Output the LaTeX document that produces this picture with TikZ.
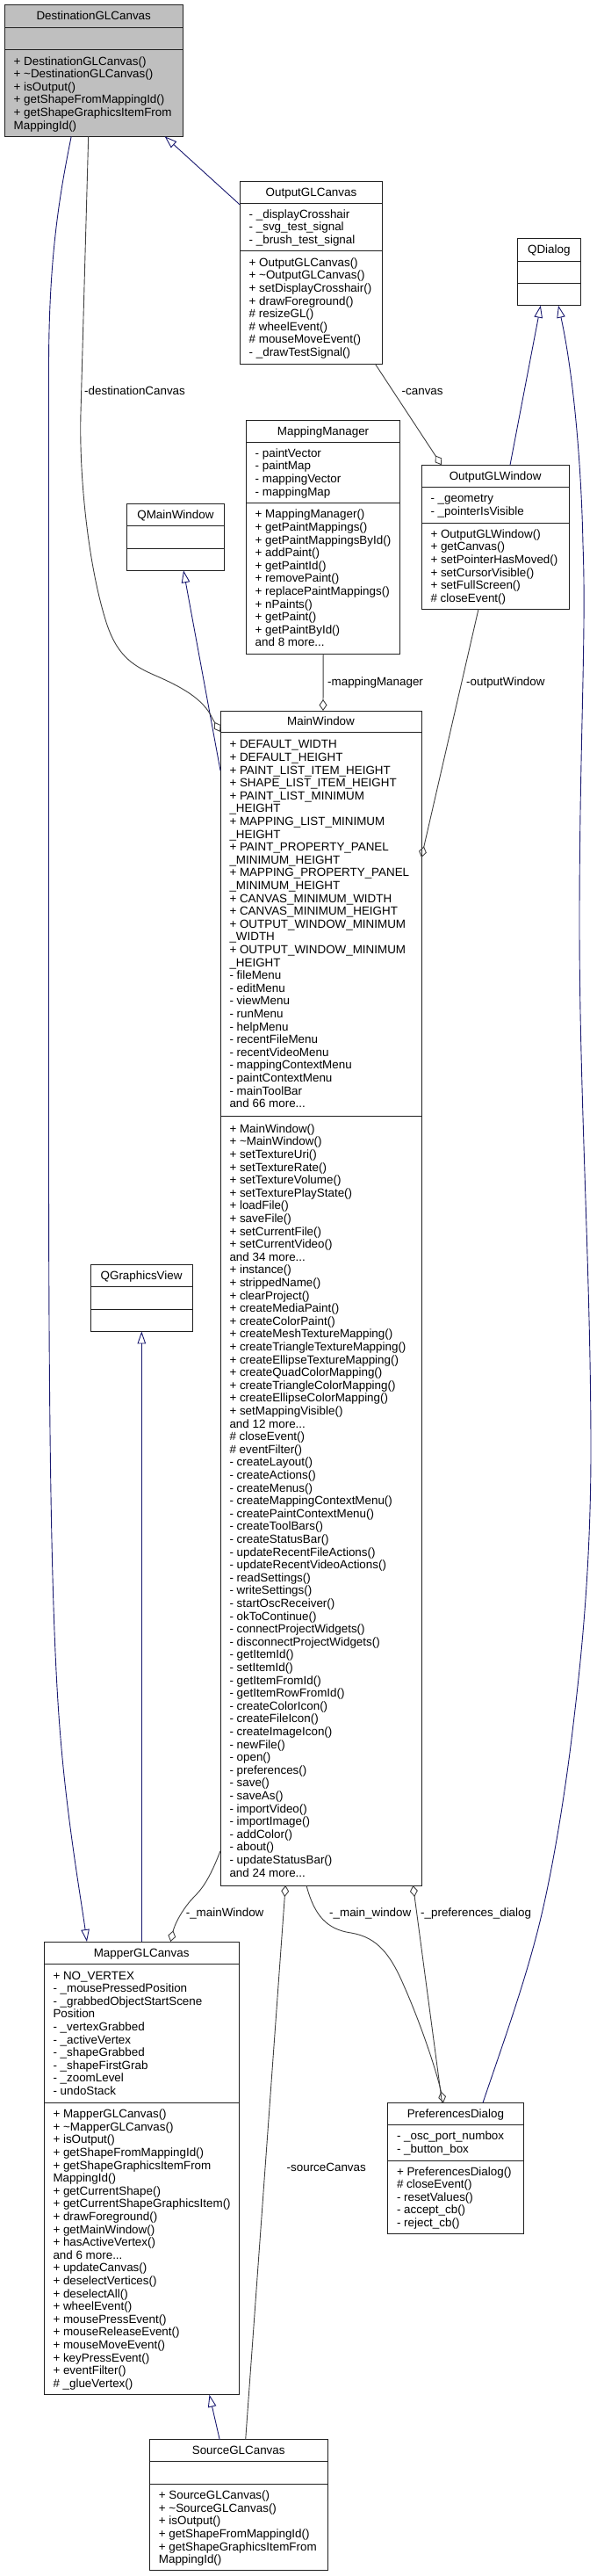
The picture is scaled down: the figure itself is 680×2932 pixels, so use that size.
\documentclass[tikz,border=0pt]{standalone}
\usepackage{fontspec}
\setmainfont{Liberation Sans}
\usetikzlibrary{arrows.meta,calc}
\definecolor{inhblue}{HTML}{191970}
\definecolor{agggrey}{HTML}{404040}
\definecolor{boxline}{HTML}{202020}
\definecolor{focusgrey}{HTML}{BFBFBF}
\newcommand\mydots{...}
\newcommand\dfont{\fontsize{13.4pt}{14.6pt}\selectfont}
\newcommand\classlines[4]{%
  \foreach \cltext [count=\i from 0] in {#4} {%
    \node[txt] (#3\i) at (#1, {#2+\i*14.6}) {\cltext};
  }%
}
\tikzset{
  cbox/.style={draw=boxline, line width=1pt, fill=white, inner sep=0pt, outer sep=0pt, anchor=north west},
  csep/.style={draw=boxline, line width=1pt},
  txt/.style={anchor=base west, inner sep=0pt, font=\dfont},
  ttl/.style={anchor=base, inner sep=0pt, font=\dfont},
  inh/.style={draw=inhblue, line width=0.9pt, -{Triangle[open, length=14pt, width=9.5pt]}},
  agg/.style={draw=agggrey, line width=0.9pt, -{Diamond[open, length=13pt, width=9pt]}},
}
\begin{document}
\begin{tikzpicture}[x=1pt, y=-1pt]
\fill[white] (0,0) rectangle (680,2932);
\useasboundingbox (0,0) rectangle (680,2932);

% ---------- DestinationGLCanvas
\node[cbox, fill=focusgrey, minimum width=203pt, minimum height=149.6pt] (dest) at (5.2,5.7) {};
\draw[csep] (dest.west |- 0,31) -- (dest.east |- 0,31);
\draw[csep] (dest.west |- 0,56.7) -- (dest.east |- 0,56.7);
\node[ttl] (destT) at (106.7,22.95) {DestinationGLCanvas};
\classlines{15.5}{74.1}{destM}{{+ DestinationGLCanvas()},{+ \textasciitilde DestinationGLCanvas()},{+ isOutput()},{+ getShapeFromMappingId()},{+ getShapeGraphicsItemFrom},{MappingId()}}

% ---------- OutputGLCanvas
\node[cbox, minimum width=162.6pt, minimum height=208pt] (outc) at (273.2,206) {};
\draw[csep] (outc.west |- 0,231) -- (outc.east |- 0,231);
\draw[csep] (outc.west |- 0,285.7) -- (outc.east |- 0,285.7);
\node[ttl] (outcT) at (354.5,223.1) {OutputGLCanvas};
\classlines{283.5}{248.35}{outcA}{{- \_displayCrosshair},{- \_svg\_test\_signal},{- \_brush\_test\_signal}}
\classlines{283.5}{303.35}{outcM}{{+ OutputGLCanvas()},{+ \textasciitilde OutputGLCanvas()},{+ setDisplayCrosshair()},{+ drawForeground()},{\# resizeGL()},{\# wheelEvent()},{\# mouseMoveEvent()},{- \_drawTestSignal()}}

% ---------- QDialog
\node[cbox, minimum width=72pt, minimum height=76pt] (qd) at (589.3,271.7) {};
\draw[csep] (qd.west |- 0,297) -- (qd.east |- 0,297);
\draw[csep] (qd.west |- 0,322.7) -- (qd.east |- 0,322.7);
\node[ttl] (qdT) at (625.3,288.95) {QDialog};

% ---------- MappingManager
\node[cbox, minimum width=175.7pt, minimum height=266.3pt] (mm) at (280.2,478) {};
\draw[csep] (mm.west |- 0,503) -- (mm.east |- 0,503);
\draw[csep] (mm.west |- 0,572.3) -- (mm.east |- 0,572.3);
\node[ttl] (mmT) at (368.05,495.1) {MappingManager};
\classlines{290.5}{520.35}{mmA}{{- paintVector},{- paintMap},{- mappingVector},{- mappingMap}}
\classlines{290.5}{589.9}{mmM}{{+ MappingManager()},{+ getPaintMappings()},{+ getPaintMappingsById()},{+ addPaint()},{+ getPaintId()},{+ removePaint()},{+ replacePaintMappings()},{+ nPaints()},{+ getPaint()},{+ getPaintById()},{and 8 more\mydots}}

% ---------- QMainWindow
\node[cbox, minimum width=111pt, minimum height=76pt] (qmw) at (144.4,573.3) {};
\draw[csep] (qmw.west |- 0,598.3) -- (qmw.east |- 0,598.3);
\draw[csep] (qmw.west |- 0,624) -- (qmw.east |- 0,624);
\node[ttl] (qmwT) at (199.9,590.4) {QMainWindow};

% ---------- OutputGLWindow
\node[cbox, minimum width=168.3pt, minimum height=164pt] (ow) at (480,529.3) {};
\draw[csep] (ow.west |- 0,554.3) -- (ow.east |- 0,554.3);
\draw[csep] (ow.west |- 0,595) -- (ow.east |- 0,595);
\node[ttl] (owT) at (564.15,546.4) {OutputGLWindow};
\classlines{490.3}{571.95}{owA}{{- \_geometry},{- \_pointerIsVisible}}
\classlines{490.3}{612.25}{owM}{{+ OutputGLWindow()},{+ getCanvas()},{+ setPointerHasMoved()},{+ setCursorVisible()},{+ setFullScreen()},{\# closeEvent()}}

% ---------- MainWindow
\node[cbox, minimum width=229pt, minimum height=1337pt] (mw) at (251,809) {};
\draw[csep] (mw.west |- 0,833.3) -- (mw.east |- 0,833.3);
\draw[csep] (mw.west |- 0,1270) -- (mw.east |- 0,1270);
\node[ttl] (mwT) at (365.5,825.75) {MainWindow};
\classlines{261.3}{851.85}{mwA}{{+ DEFAULT\_WIDTH},{+ DEFAULT\_HEIGHT},{+ PAINT\_LIST\_ITEM\_HEIGHT},{+ SHAPE\_LIST\_ITEM\_HEIGHT},{+ PAINT\_LIST\_MINIMUM},{\_HEIGHT},{+ MAPPING\_LIST\_MINIMUM},{\_HEIGHT},{+ PAINT\_PROPERTY\_PANEL},{\_MINIMUM\_HEIGHT},{+ MAPPING\_PROPERTY\_PANEL},{\_MINIMUM\_HEIGHT},{+ CANVAS\_MINIMUM\_WIDTH},{+ CANVAS\_MINIMUM\_HEIGHT},{+ OUTPUT\_WINDOW\_MINIMUM},{\_WIDTH},{+ OUTPUT\_WINDOW\_MINIMUM},{\_HEIGHT},{- fileMenu},{- editMenu},{- viewMenu},{- runMenu},{- helpMenu},{- recentFileMenu},{- recentVideoMenu},{- mappingContextMenu},{- paintContextMenu},{- mainToolBar},{and 66 more\mydots}}
\classlines{261.3}{1289.2}{mwM}{{+ MainWindow()},{+ \textasciitilde MainWindow()},{+ setTextureUri()},{+ setTextureRate()},{+ setTextureVolume()},{+ setTexturePlayState()},{+ loadFile()},{+ saveFile()},{+ setCurrentFile()},{+ setCurrentVideo()},{and 34 more\mydots},{+ instance()},{+ strippedName()},{+ clearProject()},{+ createMediaPaint()},{+ createColorPaint()},{+ createMeshTextureMapping()},{+ createTriangleTextureMapping()},{+ createEllipseTextureMapping()},{+ createQuadColorMapping()},{+ createTriangleColorMapping()},{+ createEllipseColorMapping()},{+ setMappingVisible()},{and 12 more\mydots},{\# closeEvent()},{\# eventFilter()},{- createLayout()},{- createActions()},{- createMenus()},{- createMappingContextMenu()},{- createPaintContextMenu()},{- createToolBars()},{- createStatusBar()},{- updateRecentFileActions()},{- updateRecentVideoActions()},{- readSettings()},{- writeSettings()},{- startOscReceiver()},{- okToContinue()},{- connectProjectWidgets()},{- disconnectProjectWidgets()},{- getItemId()},{- setItemId()},{- getItemFromId()},{- getItemRowFromId()},{- createColorIcon()},{- createFileIcon()},{- createImageIcon()},{- newFile()},{- open()},{- preferences()},{- save()},{- saveAs()},{- importVideo()},{- importImage()},{- addColor()},{- about()},{- updateStatusBar()},{and 24 more\mydots}}

% ---------- QGraphicsView
\node[cbox, minimum width=115.8pt, minimum height=76.1pt] (qgv) at (103.2,1439.3) {};
\draw[csep] (qgv.west |- 0,1464.6) -- (qgv.east |- 0,1464.6);
\draw[csep] (qgv.west |- 0,1490) -- (qgv.east |- 0,1490);
\node[ttl] (qgvT) at (161.1,1456.55) {QGraphicsView};

% ---------- MapperGLCanvas
\node[cbox, minimum width=222.3pt, minimum height=515.7pt] (mapper) at (50,2210) {};
\draw[csep] (mapper.west |- 0,2235.3) -- (mapper.east |- 0,2235.3);
\draw[csep] (mapper.west |- 0,2393) -- (mapper.east |- 0,2393);
\node[ttl] (mapperT) at (161.15,2227.25) {MapperGLCanvas};
\classlines{60.3}{2253.05}{mapperA}{{+ NO\_VERTEX},{- \_mousePressedPosition},{- \_grabbedObjectStartScene},{Position},{- \_vertexGrabbed},{- \_activeVertex},{- \_shapeGrabbed},{- \_shapeFirstGrab},{- \_zoomLevel},{- undoStack}}
\classlines{60.3}{2410.65}{mapperM}{{+ MapperGLCanvas()},{+ \textasciitilde MapperGLCanvas()},{+ isOutput()},{+ getShapeFromMappingId()},{+ getShapeGraphicsItemFrom},{MappingId()},{+ getCurrentShape()},{+ getCurrentShapeGraphicsItem()},{+ drawForeground()},{+ getMainWindow()},{+ hasActiveVertex()},{and 6 more\mydots},{+ updateCanvas()},{+ deselectVertices()},{+ deselectAll()},{+ wheelEvent()},{+ mousePressEvent()},{+ mouseReleaseEvent()},{+ mouseMoveEvent()},{+ keyPressEvent()},{+ eventFilter()},{\# \_glueVertex()}}

% ---------- PreferencesDialog
\node[cbox, minimum width=154.8pt, minimum height=149pt] (pd) at (441.5,2393.3) {};
\draw[csep] (pd.west |- 0,2418.3) -- (pd.east |- 0,2418.3);
\draw[csep] (pd.west |- 0,2459) -- (pd.east |- 0,2459);
\node[ttl] (pdT) at (518.9,2410.4) {PreferencesDialog};
\classlines{451.8}{2435.95}{pdA}{{- \_osc\_port\_numbox},{- \_button\_box}}
\classlines{451.8}{2476.05}{pdM}{{+ PreferencesDialog()},{\# closeEvent()},{- resetValues()},{- accept\_cb()},{- reject\_cb()}}

% ---------- SourceGLCanvas
\node[cbox, minimum width=202.6pt, minimum height=149pt] (src) at (170.4,2776.7) {};
\draw[csep] (src.west |- 0,2801.7) -- (src.east |- 0,2801.7);
\draw[csep] (src.west |- 0,2827.3) -- (src.east |- 0,2827.3);
\node[ttl] (srcT) at (271.7,2793.8) {SourceGLCanvas};
\classlines{180.7}{2844.6}{srcM}{{+ SourceGLCanvas()},{+ \textasciitilde SourceGLCanvas()},{+ isOutput()},{+ getShapeFromMappingId()},{+ getShapeGraphicsItemFrom},{MappingId()}}

% ---------- inheritance edges
\draw[inh] ($(outc.north west)+(0,27)$) -- ($(dest.south west)+(182.5,0)$);
\draw[inh] ($(dest.south west)+(76,0)$) .. controls (66,230) and (55.5,300) .. (55.5,420) -- (55.5,1300) .. controls (55.5,1700) and (60,1880) .. (70,1990) .. controls (78,2080) and (92,2160) .. ($(mapper.north west)+(49,0)$);
\draw[inh] ($(ow.north west)+(101,0)$) -- ($(qd.south west)+(26.5,0)$);
\draw[inh] ($(pd.north west)+(108.5,0)$) .. controls (575,2320) and (600,2250) .. (616,2183) .. controls (632,2116) and (645,2030) .. (652,1971) .. controls (659,1912) and (673,1800) .. (673,1650) .. controls (673,1450) and (660,1250) .. (660,1050) .. controls (660,850) and (668,720) .. (664,620) .. controls (662,520) and (652,420) .. ($(qd.south west)+(46.7,0)$);
\draw[inh] ($(mw.north west)+(0,68)$) -- ($(qmw.south west)+(64.6,0)$);
\draw[inh] ($(mapper.north west)+(111.3,0)$) -- ($(qgv.south west)+(58.1,0)$);
\draw[inh] ($(src.north west)+(79.8,0)$) -- ($(mapper.south west)+(188.5,0)$);

% ---------- aggregation edges
\draw[agg] ($(dest.south west)+(95.5,0)$) -- (92,470) .. controls (90,540) and (100,640) .. (120,705) .. controls (132,745) and (150,757) .. (175,768) .. controls (205,781) and (232,795) .. (242,818) -- ($(mw.north west)+(0,24)$);
\draw[agg] ($(outc.south west)+(154,0)$) -- ($(ow.north west)+(23,0)$);
\draw[agg] ($(mm.south west)+(88,0)$) -- ($(mw.north west)+(117,0)$);
\draw[agg] ($(ow.south west)+(65,0)$) -- ($(mw.north east)+(0,167)$);
\draw[agg] ($(mw.south west)+(0,-39.3)$) .. controls (240,2135) and (232,2148) .. (222,2158) .. controls (208,2172) and (199,2190) .. ($(mapper.north west)+(144.3,0)$);
\draw[agg] ($(src.north west)+(109.3,0)$) -- ($(mw.south west)+(74.2,0)$);
\draw[agg] ($(pd.north west)+(62,0)$) -- ($(mw.south west)+(219.5,0)$);
\draw[agg] ($(mw.south west)+(98,0)$) .. controls (358,2180) and (372,2196) .. (400,2200) .. controls (430,2205) and (445,2225) .. (460,2260) .. controls (480,2305) and (498,2360) .. ($(pd.north west)+(63.5,0)$);

% ---------- edge labels
\node[txt] (lDest) at (96,449.6) {-destinationCanvas};
\node[txt] (lCanvas) at (457.5,449.6) {-canvas};
\node[txt] (lMM) at (373,780.3) {-mappingManager};
\node[txt] (lOW) at (531,780.3) {-outputWindow};
\node[txt] (lMainW) at (211.6,2181.3) {-\_mainWindow};
\node[txt] (lMainW2) at (375,2181.3) {-\_main\_window};
\node[txt] (lPref) at (479,2181.3) {-\_preferences\_dialog};
\node[txt] (lSrc) at (326.5,2471.3) {-sourceCanvas};
\end{tikzpicture}
\end{document}
